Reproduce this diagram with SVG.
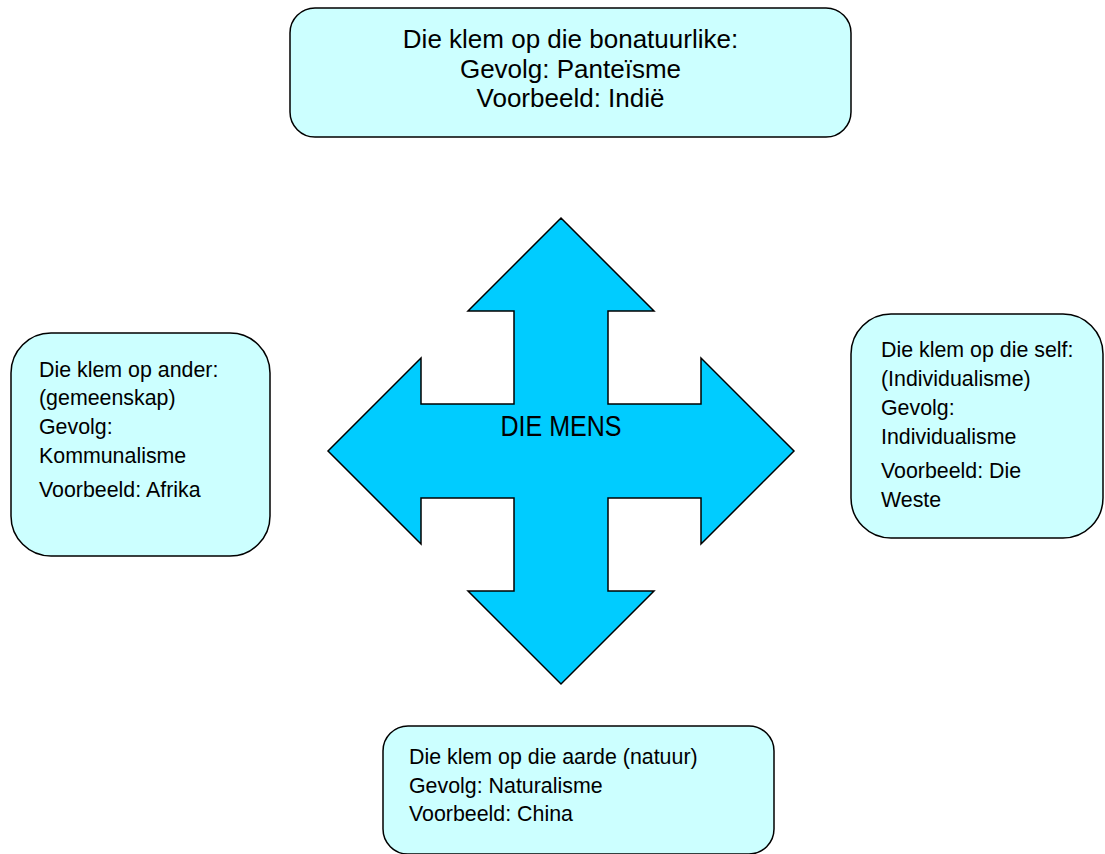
<svg xmlns="http://www.w3.org/2000/svg" width="1105" height="854" viewBox="0 0 1105 854">
<style>
.box{fill:#CCFFFF;stroke:#000;stroke-width:1.5}
.arrow{fill:#00CCFF;stroke:#000;stroke-width:1.5;stroke-linejoin:miter}
.t{font-family:"Liberation Sans",Arial,sans-serif;fill:#000}
.big{font-size:26px;text-anchor:middle}
.sm{font-size:23px}
</style>
<rect width="1105" height="854" fill="#fff"/>
<g id="connectors"></g>
<g id="die-mens">
<polygon class="arrow" points="561,218 654,311 608,311 608,404 701,404 701,358 794,451 701,544 701,498 608,498 608,591 654,591 561,684 468,591 514,591 514,498 421,498 421,544 328,451 421,358 421,404 514,404 514,311 468,311"/>
<text class="t" x="561" y="436" font-size="29" text-anchor="middle" textLength="121" lengthAdjust="spacingAndGlyphs">DIE MENS</text>
</g>
<g id="bonatuurlike">
<rect class="box" x="290" y="8" width="561" height="129" rx="25" ry="25"/>
<text class="t big"><tspan x="570.5" y="48">Die klem op die bonatuurlike:</tspan><tspan x="570.5" y="78">Gevolg: Panteïsme</tspan><tspan x="570.5" y="107">Voorbeeld: Indië</tspan></text>
</g>
<g id="ander">
<rect class="box" x="11" y="333" width="259" height="223" rx="40" ry="40"/>
<text class="t sm" transform="translate(39,0) scale(0.93,1)"><tspan x="0" y="377">Die klem op ander:</tspan><tspan x="0" y="405.5">(gemeenskap)</tspan><tspan x="0" y="434">Gevolg:</tspan><tspan x="0" y="463">Kommunalisme</tspan><tspan x="0" y="497">Voorbeeld: Afrika</tspan></text>
</g>
<g id="self">
<rect class="box" x="851" y="314" width="252" height="224" rx="40" ry="40"/>
<text class="t sm" transform="translate(881,0) scale(0.93,1)"><tspan x="0" y="357">Die klem op die self:</tspan><tspan x="0" y="386">(Individualisme)</tspan><tspan x="0" y="415">Gevolg:</tspan><tspan x="0" y="444">Individualisme</tspan><tspan x="0" y="478">Voorbeeld: Die</tspan><tspan x="0" y="507">Weste</tspan></text>
</g>
<g id="aarde">
<rect class="box" x="383" y="726" width="391" height="128" rx="25" ry="25"/>
<text class="t sm" transform="translate(409,0) scale(0.93,1)"><tspan x="0" y="764.5">Die klem op die aarde (natuur)</tspan><tspan x="0" y="793">Gevolg: Naturalisme</tspan><tspan x="0" y="821">Voorbeeld: China</tspan></text>
</g>
</svg>
